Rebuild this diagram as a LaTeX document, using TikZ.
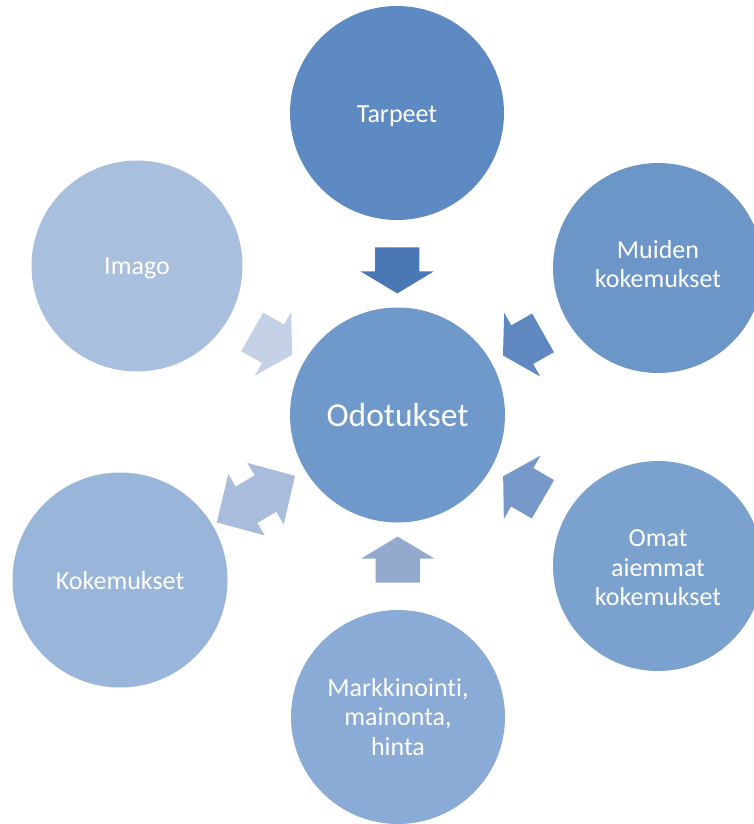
\documentclass[tikz,border=0pt]{standalone}
\usepackage{fontspec}
\setmainfont[Ligatures=NoCommon]{Carlito}
\usetikzlibrary{shapes.arrows,calc}
\definecolor{cTar}{HTML}{5D8AC2}
\definecolor{cMui}{HTML}{6C96C8}
\definecolor{cOdo}{HTML}{6F98CB}
\definecolor{cOma}{HTML}{7BA1CF}
\definecolor{cMar}{HTML}{8AABD5}
\definecolor{cKok}{HTML}{9AB5DA}
\definecolor{cIma}{HTML}{A9BFDE}
\definecolor{aTar}{HTML}{4A78B5}
\definecolor{aMui}{HTML}{5F88C0}
\definecolor{aOma}{HTML}{7799C9}
\definecolor{aMar}{HTML}{93A9CE}
\definecolor{aKok}{HTML}{AABCDB}
\definecolor{aIma}{HTML}{C4D0E5}
\begin{document}
\begin{tikzpicture}[x=1pt,y=-1pt,
  circ/.style={circle, draw=none, inner sep=0pt},
  txt/.style={text=white, align=center, font=\fontsize{26}{29.5}\selectfont},
  bigtxt/.style={text=white, align=center, font=\fontsize{33.5}{38}\selectfont},
  arr/.style={single arrow, draw=none, inner xsep=0pt, inner ysep=22pt,
    single arrow head extend=14.5pt, single arrow tip angle=118,
    minimum height=46pt, sloped, allow upside down, anchor=center},
  darr/.style={double arrow, draw=none, inner xsep=0pt, inner ysep=21pt,
    double arrow head extend=14.5pt, double arrow tip angle=92,
    minimum height=91pt, sloped, allow upside down, anchor=center}]
\useasboundingbox (0,0) rectangle (754,824);
\clip (0,0) rectangle (754,824);
% circles
\node[circ, fill=cOdo, minimum size=215pt] (odo) at (397.5,415) {};
\node[circ, fill=cTar, minimum size=214pt] (tar) at (397,113) {};
\node[circ, fill=cMui, minimum size=210pt] (mui) at (658,268) {};
\node[circ, fill=cOma, minimum size=210pt] (oma) at (658,566) {};
\node[circ, fill=cMar, minimum size=214pt] (mar) at (398,717) {};
\node[circ, fill=cKok, minimum size=215pt] (kok) at (120,580) {};
\node[circ, fill=cIma, minimum size=211pt] (ima) at (137,266) {};
% texts
\node[bigtxt] (todo) at (odo) {Odotukset};
\node[txt] (ttar) at ([yshift=-3pt]tar) {Tarpeet};
\node[txt] (tmui) at ([yshift=4pt]mui) {Muiden\\kokemukset};
\node[txt] (toma) at ([yshift=-2pt]oma) {Omat\\aiemmat\\kokemukset};
\node[txt] (tmar) at (mar) {Markkinointi,\\mainonta,\\hinta};
\node[txt] (tkok) at ([yshift=-1pt]kok) {Kokemukset};
\node[txt] (tima) at ([yshift=-2pt]ima) {Imago};
% arrows
\path (tar) -- node[arr, fill=aTar] (atar) {} (odo);
\path (mui) -- node[arr, fill=aMui] (amui) {} (odo);
\path (oma) -- node[arr, fill=aOma] (aoma) {} (odo);
\path (mar) -- node[arr, fill=aMar] (amar) {} (odo);
\path (kok) -- node[darr, fill=aKok, pos=0.47] (akok) {} (odo);
\path (ima) -- node[arr, fill=aIma] (aima) {} (odo);
\end{tikzpicture}
\end{document}
